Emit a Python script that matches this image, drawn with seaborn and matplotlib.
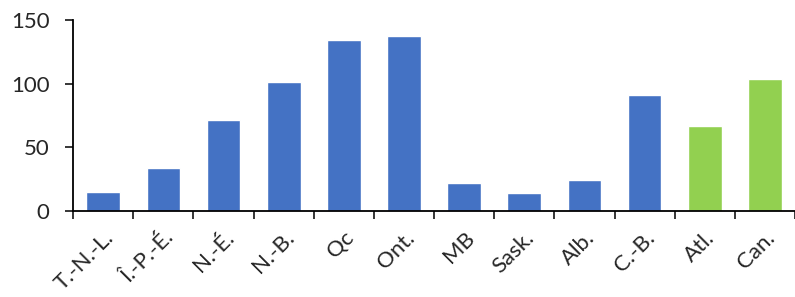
import numpy as np
import pandas as pd
import matplotlib.pyplot as plt
import seaborn as sns

regions = ["T.-N.-L.", "Î.-P.-É.", "N.-É.", "N.-B.", "Qc", "Ont.", "MB",
           "Sask.", "Alb.", "C.-B.", "Atl.", "Can."]
values = [15, 33.5, 71, 101.5, 134, 137, 22, 14, 24, 91, 66.5, 103.5]
groups = ["prov"] * 10 + ["agg"] * 2
palette = {"prov": "#4472C4", "agg": "#92D050"}

df = pd.DataFrame({"region": regions, "value": values, "group": groups})

sns.set_style("white")
plt.rcParams["font.family"] = ["Lato", "DejaVu Sans"]

fig = plt.figure(figsize=(7.95, 2.97), dpi=100)
ax = fig.add_axes([0.092, 0.29, 0.908, 0.643])

sns.barplot(data=df, x="region", y="value", hue="group", palette=palette,
            dodge=False, width=0.56, saturation=1, legend=False, ax=ax)

ax.set_xlim(-0.5, len(regions) - 0.5)
ax.set_ylim(0, 150)
ax.set_yticks([0, 50, 100, 150])
ax.set_xlabel("")
ax.set_ylabel("")

for s in ["top", "right"]:
    ax.spines[s].set_visible(False)
for s in ["left", "bottom"]:
    ax.spines[s].set_color("black")
    ax.spines[s].set_linewidth(1.3)

ax.tick_params(axis="y", direction="out", length=6, width=1.3, labelsize=16, pad=11, left=True)
ax.set_xticks(np.arange(-0.5, len(regions), 1), minor=True)
ax.tick_params(axis="x", which="minor", direction="out", length=6, width=1.3, bottom=True)
ax.tick_params(axis="x", which="major", length=0, labelsize=16, pad=12)
plt.setp(ax.get_xticklabels(), rotation=45, ha="right", rotation_mode="anchor")

fig.savefig("out.png", dpi=100)
